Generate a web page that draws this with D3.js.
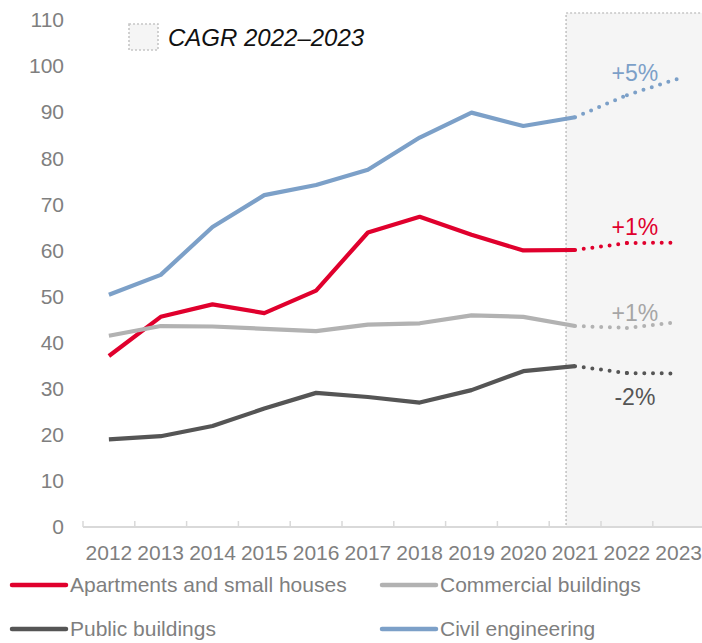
<!DOCTYPE html>
<meta charset="utf-8">
<style>
    body {
        margin: 0;
        background-color: #ffffff;
    }

    text {
        font-family: "Liberation Sans", Arial, sans-serif;
    }

    .tick-label {
        fill: #7f7f7f;
        font-size: 21px;
    }
</style>

<body>
    <script src="https://d3js.org/d3.v7.min.js"></script>

    <script>
        var width = 702,
            height = 643;

        // categories
        const years = ["2012", "2013", "2014", "2015", "2016", "2017", "2018", "2019", "2020", "2021", "2022", "2023"];
        const actualYears = years.slice(0, 10);      // 2012-2021 solid
        const forecastYears = ["2021", "2022", "2023"]; // dotted part

        // series values (index)
        const apartments = [37.1, 45.6, 48.3, 46.4, 51.3, 63.9, 67.3, 63.4, 60.0, 60.1, 61.6, 61.7];
        const commercial = [41.5, 43.6, 43.5, 43.0, 42.5, 43.9, 44.2, 45.9, 45.6, 43.6, 43.2, 44.5];
        const publicB = [19.0, 19.7, 21.9, 25.7, 29.1, 28.2, 27.0, 29.7, 33.8, 34.9, 33.4, 33.3];
        const civil = [50.4, 54.7, 65.1, 72.0, 74.2, 77.5, 84.5, 89.9, 87.0, 88.9, 93.7, 97.3];

        const seriesNames = ["Apartments and small houses", "Commercial buildings", "Public buildings", "Civil engineering"];
        const seriesColors = ["#e0002d", "#b2b2b2", "#555555", "#7ca0c8"];
        const cagrLabels = ["+1%", "+1%", "-2%", "+5%"];

        const yTicks = [0, 10, 20, 30, 40, 50, 60, 70, 80, 90, 100, 110];

        var series = [apartments, commercial, publicB, civil].map(function (vals, i) {
            return {
                name: seriesNames[i],
                color: seriesColors[i],
                cagr: cagrLabels[i],
                values: years.map(function (y, j) { return { year: y, value: vals[j] } })
            }
        })

        var svg = d3.select("body").append("svg")
            .attr("width", width)
            .attr("height", height)

        var x = d3.scaleBand()
            .domain(years)
            .range([83, 704.6])

        var y = d3.scaleLinear()
            .domain([0, 110])
            .range([527, 20])

        var cx = function (yr) { return x(yr) + x.bandwidth() / 2 }

        // forecast shaded box
        svg.append("rect")
            .attr("x", cx("2021") - 9)
            .attr("y", 13)
            .attr("width", 160)
            .attr("height", y(0) - 13)
            .attr("fill", "#f5f5f5")
            .attr("stroke", "#c6c6c6")
            .attr("stroke-width", 1.6)
            .attr("stroke-dasharray", "2 2")

        // y axis labels
        var yAxis = d3.axisLeft(y)
            .tickValues(yTicks)
            .tickSize(0)
            .tickPadding(0)

        svg.append("g")
            .attr("transform", "translate(64,0)")
            .call(yAxis)
            .call(g => g.select(".domain").remove())
            .selectAll("text")
            .attr("class", "tick-label")
            .attr("fill", null)
            .attr("font-family", null)
            .attr("font-size", null)

        // x axis baseline + ticks between categories
        var xAxisG = svg.append("g")
        xAxisG.append("line")
            .attr("x1", x.range()[0])
            .attr("x2", width)
            .attr("y1", y(0))
            .attr("y2", y(0))
            .attr("stroke", "#d9d9d9")
            .attr("stroke-width", 2)

        xAxisG.selectAll(".xtick")
            .data(years)
            .enter().append("line")
            .attr("x1", d => x(d))
            .attr("x2", d => x(d))
            .attr("y1", y(0))
            .attr("y2", y(0) - 6)
            .attr("stroke", "#d9d9d9")
            .attr("stroke-width", 1.5)

        xAxisG.selectAll(".xlabel")
            .data(years)
            .enter().append("text")
            .attr("class", "tick-label")
            .attr("x", d => cx(d))
            .attr("y", 560)
            .attr("text-anchor", "middle")
            .text(d => d)

        var line = d3.line()
            .x(d => cx(d.year))
            .y(d => y(d.value))

        // solid lines
        svg.selectAll(".solid")
            .data(series)
            .enter().append("path")
            .attr("d", d => line(d.values.filter(v => actualYears.includes(v.year))))
            .attr("fill", "none")
            .attr("stroke", d => d.color)
            .attr("stroke-width", 4.2)
            .attr("stroke-linejoin", "round")

        // dotted forecast, one segment per year step
        series.forEach(function (s) {
            var fc = s.values.filter(v => forecastYears.includes(v.year))
            for (var k = 0; k < fc.length - 1; k++) {
                svg.append("path")
                    .attr("d", line([fc[k], fc[k + 1]]))
                    .attr("fill", "none")
                    .attr("stroke", s.color)
                    .attr("stroke-width", 4)
                    .attr("stroke-linecap", "round")
                    .attr("stroke-dasharray", "0 8.7")
            }
        })

        // CAGR labels
        var labelY = [235, 321, 405, 81]
        svg.selectAll(".cagr")
            .data(series)
            .enter().append("text")
            .attr("x", cx("2022") + 8)
            .attr("y", (d, i) => labelY[i])
            .attr("text-anchor", "middle")
            .attr("font-size", "23px")
            .attr("fill", d => d.color === "#b2b2b2" ? "#a6a6a6" : d.color)
            .text(d => d.cagr)

        // CAGR legend
        svg.append("rect")
            .attr("x", 129)
            .attr("y", 24)
            .attr("width", 29)
            .attr("height", 26)
            .attr("fill", "#f5f5f5")
            .attr("stroke", "#c6c6c6")
            .attr("stroke-width", 1.6)
            .attr("stroke-dasharray", "2 2")

        svg.append("text")
            .attr("x", 168)
            .attr("y", 46)
            .attr("font-size", "24px")
            .attr("font-style", "italic")
            .attr("fill", "#111111")
            .text("CAGR 2022\u20132023")

        // series legend
        var legendPos = [[12, 585], [382, 585], [12, 629], [382, 629]]
        var legend = svg.selectAll(".legend")
            .data(series)
            .enter().append("g")
            .attr("transform", (d, i) => "translate(" + legendPos[i][0] + "," + legendPos[i][1] + ")")

        legend.append("line")
            .attr("x1", 0)
            .attr("x2", 54)
            .attr("stroke", d => d.color)
            .attr("stroke-width", 4.5)
            .attr("stroke-linecap", "round")

        legend.append("text")
            .attr("x", 58)
            .attr("y", 7)
            .attr("class", "tick-label")
            .text(d => d.name)
    </script>
</body>

</html>
